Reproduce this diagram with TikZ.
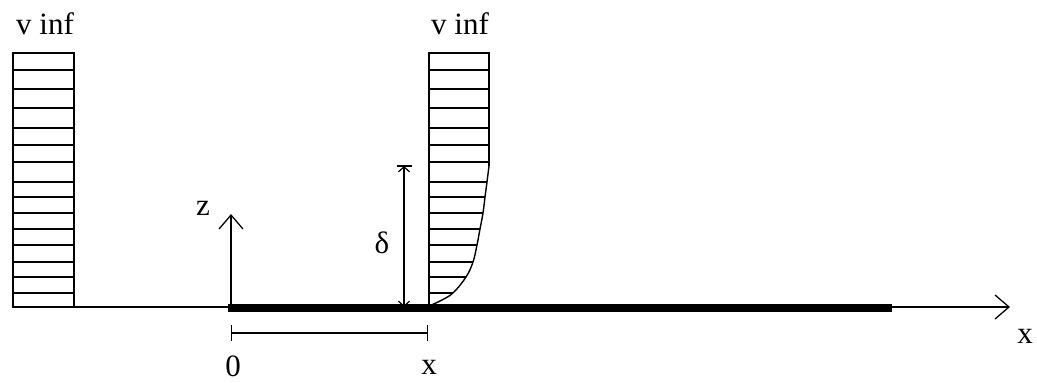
\documentclass[tikz,border=0pt]{standalone}
\usepackage{fontspec}
\setmainfont{Liberation Serif}
\usetikzlibrary{arrows.meta}
\begin{document}
\begin{tikzpicture}[x=1pt,y=-1pt,
  thin line/.style={line width=1.4pt,line cap=butt},
  lbl/.style={font=\fontsize{31}{34}\selectfont,inner sep=0pt},
  bigarrow/.style={-{Straight Barb[length=14pt,width=24pt,line width=1.3pt]}},
  smallarrow/.style={-{Straight Barb[length=5pt,width=11pt,line width=1.2pt]}},
  plate/.style={line width=8pt,line cap=butt}]
\useasboundingbox (0,0) rectangle (1037,383);
\fill[white] (0,0) rectangle (1037,383);
% --- left profile
\coordinate (LTL) at (13,53);
\coordinate (LBR) at (74,307);
\draw[thin line] (LTL) rectangle (LBR);
\foreach \y in {70,89,108,128,145,162,182,197,213,229,245,262,277,293}
  \draw[thin line] (13,\y) -- (74,\y);
% --- right profile
\coordinate (RTL) at (429,53);
\coordinate (RTR) at (489,53);
\coordinate (RBL) at (429,307);
\coordinate (RC) at (489,166);
\draw[thin line] (RBL) -- (RTL) -- (RTR) -- (RC);
\draw[thin line] plot[smooth,tension=0.6] coordinates {(489,166) (487,182) (485,197) (483,213) (480,229) (477,245) (473,262) (466,277) (453,293) (440,301) (429,306)};
\foreach \y in {70,89,108,128,145,162}
  \draw[thin line] (429,\y) -- (489,\y);
\foreach \y/\xx in {182/487,197/485,213/483,229/480,245/477,262/473,277/466,293/453}
  \draw[thin line] (429,\y) -- (\xx,\y);
% --- base line and x axis
\coordinate (O0) at (13,307);
\coordinate (XEnd) at (1010,307);
\draw[thin line,bigarrow] (O0) -- (XEnd);
\coordinate (P1) at (228,307.5);
\coordinate (P2) at (892,307.5);
\draw[plate] (P1) -- (P2);
% --- z axis
\coordinate (Z0) at (231,307);
\coordinate (Z1) at (231,214);
\draw[thin line,bigarrow] (Z0) -- (Z1);
% --- delta dimension
\coordinate (D0) at (404,307);
\coordinate (D1) at (404,166);
\coordinate (DB1) at (397,166);
\coordinate (DB2) at (412,166);
\draw[thin line,smallarrow] (D0) -- (D1);
\draw[thin line,smallarrow] (D1) -- (D0);
\draw[thin line] (DB1) -- (DB2);
% --- x dimension
\coordinate (X0) at (231,333);
\coordinate (X1) at (428,333);
\draw[thin line,{Bar[width=16pt,line width=1.3pt]}-{Bar[width=16pt,line width=1.3pt]}] (X0) -- (X1);
% --- labels
\node[lbl] (vinfL) at (45,24) {v inf};
\node[lbl] (vinfR) at (460,24) {v inf};
\node[lbl] (zlab) at (203,208) {z};
\node[lbl] (delta) at (382,243) {δ};
\node[lbl] (zero) at (233,366) {0};
\node[lbl] (xdim) at (429,367) {x};
\node[lbl] (xax) at (1025,336) {x};
\end{tikzpicture}
\end{document}
